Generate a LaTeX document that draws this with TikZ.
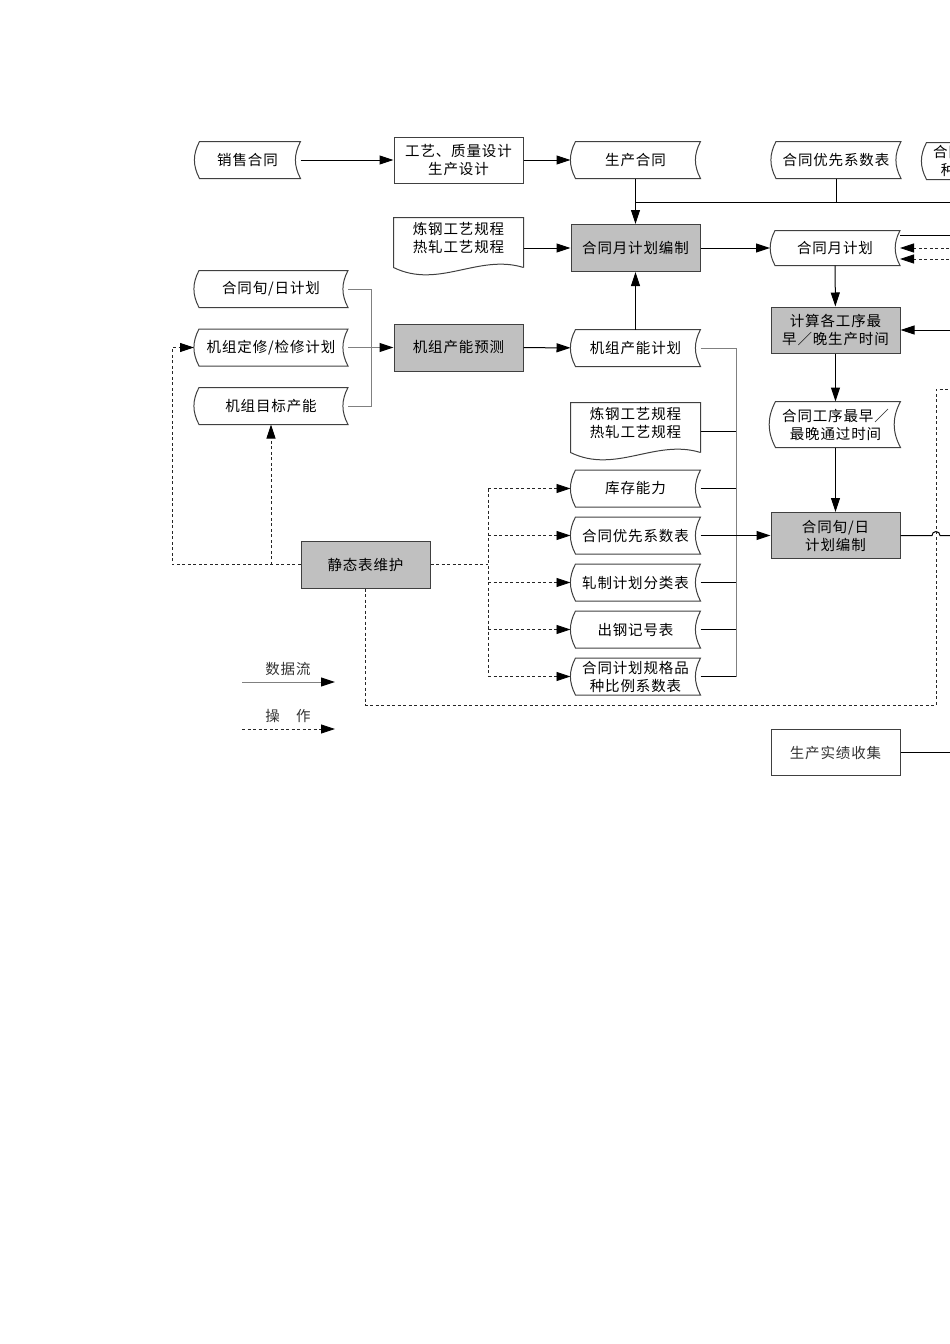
\documentclass[tikz,border=0pt]{standalone}
\usepackage{fontspec}
\setmainfont{Noto Sans CJK SC}[LetterSpace=6]
\usetikzlibrary{arrows.meta, positioning, calc}
\definecolor{procgray}{RGB}{192,192,192}
\definecolor{edgegray}{RGB}{64,64,64}
\definecolor{busgray}{RGB}{128,128,128}
\newcommand*{\datashape}[1]{\draw[outline] ([xshift=5pt]#1.north west) to[bend right=28] ([xshift=5pt]#1.south west) -- (#1.south east) to[bend left=28] (#1.north east) -- cycle;}
\newcommand*{\docshape}[1]{\draw[outline] ([yshift=-9pt]#1.south east) -- (#1.north east) -- (#1.north west) -- ([yshift=-9pt]#1.south west) .. controls ($(#1.south west)+(45,31)$) and ($(#1.south east)+(-45,-5)$) .. ([yshift=-9pt]#1.south east);}

\begin{document}
\begin{tikzpicture}[x=1pt, y=-1pt, line width=1pt,
      >={Triangle[length=14pt,width=9pt,color=black]},
      every node/.style={inner sep=0pt, align=center, font=\fontsize{14.5}{18}\selectfont},
      outline/.style={draw=edgegray, line width=1pt},
      store/.style={minimum width=129pt, minimum height=36pt},
      docu/.style={minimum width=129pt, minimum height=40pt},
      proc/.style={draw=edgegray, fill=procgray, minimum width=129pt, minimum height=46pt},
      plainbox/.style={draw=edgegray, fill=white, minimum width=129pt, minimum height=46pt},
      bus/.style={draw=busgray},
      opline/.style={draw=black!85, line width=0.8pt, dash pattern=on 3pt off 2.5pt},
      opflow/.style={opline, ->}]
      \useasboundingbox (0,0) rectangle (950,1344);
      \clip (0,0) rectangle (950,1344);
      % top row
      \node[store, minimum width=105pt] (sale) at (247.5,160) {销售合同};
      \node[plainbox] (design) at (458.5,160) {工艺、质量设计\\生产设计};
      \node[store] (prod) at (635.5,160) {生产合同};
      \node[store] (prio1) at (836,160) {合同优先系数表};
      \node[store] (ratio1) at (986.5,161) {合同计划规格品\\种比例系数表};
      % monthly plan
      \node[docu] (doc1) at (458.5,238) {炼钢工艺规程\\热轧工艺规程};
      \node[proc, minimum height=47pt] (mplanedit) at (635.5,248) {合同月计划编制};
      \node[store, minimum height=34pt] (mplan) at (835,248) {合同月计划};
      % unit capacity
      \node[store, minimum width=153pt] (xunplan) at (271,289) {合同旬/日计划};
      \node[store, minimum width=153pt, below=58.5pt of xunplan.center, anchor=center] (repair) {机组定修/检修计划};
      \node[store, minimum width=153pt, below=58.5pt of repair.center, anchor=center] (target) {机组目标产能};
      \node[proc, minimum height=47pt] (capfore) at (458.5,347.5) {机组产能预测};
      \node[store] (capplan) at (635.5,348) {机组产能计划};
      \node[proc] (calc) at (835.5,330) {计算各工序最\\早／晚生产时间};
      \node[store, minimum height=45pt] (passtime) at (835.5,424.5) {合同工序最早／\\最晚通过时间};
      % static tables
      \node[docu] (doc2) at (635.5,423) {炼钢工艺规程\\热轧工艺规程};
      \node[store] (stock) at (635.5,488.5) {库存能力};
      \node[store, below=47pt of stock.center, anchor=center] (prio2) {合同优先系数表};
      \node[store, below=47pt of prio2.center, anchor=center] (rollcls) {轧制计划分类表};
      \node[store, below=47pt of rollcls.center, anchor=center] (steelmark) {出钢记号表};
      \node[store, below=47pt of steelmark.center, anchor=center] (ratio2) {合同计划规格品\\种比例系数表};
      \node[proc] (xunedit) at (835.5,535.5) {合同旬/日\\计划编制};
      \node[proc, minimum height=47pt] (static) at (365.5,564.5) {静态表维护};
      \node[plainbox, text=black!80] (collect) at (835.5,752.5) {生产实绩收集};
      % legend
      \node[text=black!80] (lgdata) at (288,669) {数据流};
      \node[text=black!80] (lgop) at (288,716) {操　作};
      \coordinate (lgd1) at (242,682);
      \coordinate (lgd2) at (335,682);
      \coordinate (lgo1) at (242,729);
      \coordinate (lgo2) at (335,729);
      % shapes
      \foreach \n in {sale,prod,prio1,ratio1,mplan,xunplan,repair,target,capplan,passtime,stock,prio2,rollcls,steelmark,ratio2}
        {\datashape{\n}}
      \docshape{doc1}
      \docshape{doc2}
      % helper points
      \coordinate (topbus) at (635.5,202);
      \coordinate (lbus) at (371,347.5);
      \coordinate (rbus) at (736,348);
      \coordinate (fan) at (488,564.5);
      \coordinate (lx) at (172,347.5);
      \coordinate (jmp) at (936,535.5);
      \coordinate (loopb) at (936,705);
      \coordinate (loopt) at (936,389);
      \coordinate (edge1) at (960,202);
      \coordinate (edge2) at (960,235);
      \coordinate (edge3) at (960,248);
      \coordinate (edge4) at (960,259);
      \coordinate (edge5) at (960,330);
      \coordinate (edge6) at (960,389);
      \coordinate (edge7) at (960,535.5);
      \coordinate (edge8) at (960,752.5);
      % data flow
      \draw[->] (sale) -- (design);
      \draw[->] (design) -- (prod);
      \draw[->] (prod) -- (mplanedit);
      \draw (prio1) -- (prio1 |- topbus);
      \draw (topbus) -- (edge1);
      \draw[->] (doc1.east |- mplanedit) -- (mplanedit);
      \draw[->] (mplanedit) -- (mplan);
      \draw (edge2) -- (edge2 -| mplan.east);
      \draw[->] (capplan) -- (mplanedit);
      \draw[->] (mplan) -- (calc);
      \draw[->] (edge5) -- (calc);
      \draw[->] (calc) -- (passtime);
      \draw[->] (passtime) -- (xunedit);
      \draw[bus] (xunplan.east) -- (xunplan.east -| lbus) -- (target.east -| lbus) -- (target.east);
      \draw[bus, ->] (repair) -- (capfore);
      \draw[->] (capfore) -- (capplan);
      \draw[bus] (capplan.east) -- (rbus) -- (rbus |- ratio2);
      \draw ([yshift=-8pt]doc2.east) -- ([yshift=-8pt]doc2.east -| rbus);
      \foreach \n in {stock,rollcls,steelmark,ratio2}
        {\draw (\n.east) -- (\n.east -| rbus);}
      \draw[->] (prio2) -- (xunedit);
      \draw (xunedit) -- ([xshift=-4pt]jmp) arc[start angle=180, end angle=0, radius=4pt] -- (edge7);
      \draw (collect) -- (edge8);
      % operations
      \draw[opflow] (edge3) -- (edge3 -| mplan.east);
      \draw[opflow] (edge4) -- (edge4 -| mplan.east);
      \draw[opflow] (static.west) -| (lx) -- (repair);
      \draw[opflow] (static.west -| target) -- (target);
      \draw[opline] (static.east) -- (fan);
      \draw[opline] (fan |- stock) -- (fan |- ratio2);
      \foreach \n in {stock,prio2,rollcls,steelmark,ratio2}
        {\draw[opflow] (fan |- \n) -- (\n);}
      \draw[opline] (static.south) |- (loopb) -- (loopt) -- (edge6);
      % legend
      \draw[bus, ->] (lgd1) -- (lgd2);
      \draw[opflow] (lgo1) -- (lgo2);
    \end{tikzpicture}
\end{document}
